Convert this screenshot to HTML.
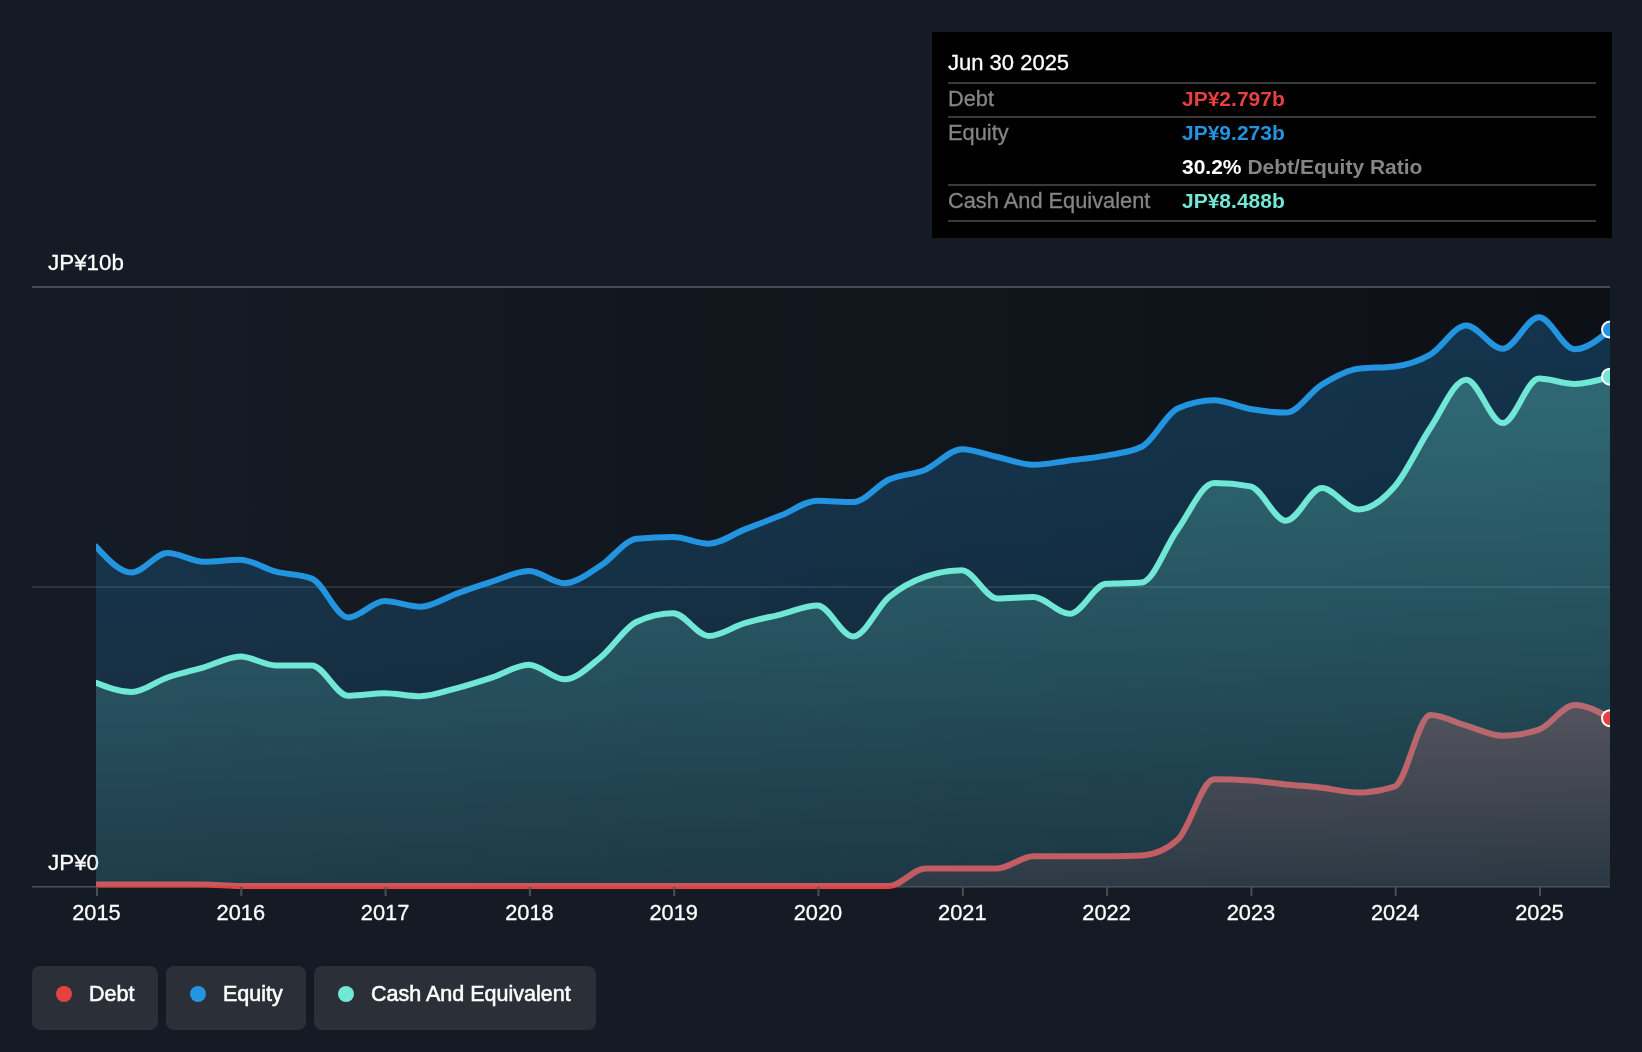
<!DOCTYPE html>
<html><head><meta charset="utf-8"><style>
*{margin:0;padding:0;box-sizing:border-box}
html,body{width:1642px;height:1052px;overflow:hidden;background:#151b24;font-family:"Liberation Sans", sans-serif}
svg{position:absolute;left:0;top:0}
.tt{will-change:transform;position:absolute;left:932px;top:32px;width:680px;height:206px;background:#000}
.tt .t{position:absolute;left:16px;color:#fff;font-size:22px;-webkit-text-stroke:0.3px #fff;white-space:nowrap}
.tt .sep{position:absolute;left:16px;width:648px;height:2px;background:#3a3a3a}
.tt .l{position:absolute;left:16px;color:#858585;font-size:21.8px;-webkit-text-stroke:0.3px #858585;white-space:nowrap}
.tt .v{position:absolute;left:250px;font-size:21px;font-weight:700;white-space:nowrap}
.lg{will-change:transform;position:absolute;top:966px;height:64px;background:#2b2f37;border-radius:8px}
.lg .d{position:absolute;top:20px;width:16px;height:16px;border-radius:50%}
.lg .n{position:absolute;top:15px;color:#fff;font-size:21.5px;font-weight:400;-webkit-text-stroke:0.55px #fff;white-space:nowrap;line-height:26px}
</style></head><body>
<svg width="1642" height="1052" viewBox="0 0 1642 1052">
<defs>
<linearGradient id="hov" x1="96" y1="0" x2="1610" y2="0" gradientUnits="userSpaceOnUse">
<stop offset="0" stop-color="#000" stop-opacity="0"/><stop offset="1" stop-color="#000" stop-opacity="0.38"/></linearGradient>
<linearGradient id="geq" x1="0" y1="288" x2="0" y2="886" gradientUnits="userSpaceOnUse">
<stop offset="0" stop-color="#2394df" stop-opacity="0.28"/><stop offset="1" stop-color="#2394df" stop-opacity="0.12"/></linearGradient>
<linearGradient id="gca" x1="0" y1="288" x2="0" y2="886" gradientUnits="userSpaceOnUse">
<stop offset="0" stop-color="#71e7d6" stop-opacity="0.34"/><stop offset="1" stop-color="#71e7d6" stop-opacity="0.10"/></linearGradient>
<linearGradient id="gde" x1="0" y1="0" x2="0" y2="1">
<stop offset="0" stop-color="#e64141" stop-opacity="0.33"/><stop offset="1" stop-color="#e64141" stop-opacity="0.10"/></linearGradient>
<clipPath id="clip"><rect x="96" y="200" width="1514" height="700"/></clipPath>
</defs>
<rect x="96" y="288" width="1514" height="598" fill="url(#hov)"/>
<rect x="32" y="286" width="1578" height="2" fill="#464a51"/>
<rect x="32" y="586" width="1578" height="2" fill="#ffffff" fill-opacity="0.11"/>
<g font-family='"Liberation Sans", sans-serif' font-size="22.4" fill="#fff" stroke="#fff" stroke-width="0.3" style="will-change:transform">
<text x="48" y="270">JP¥10b</text>
<text x="48" y="870">JP¥0</text>
</g>
<rect x="32" y="886" width="1578" height="1.6" fill="#4a4e55"/>
<g clip-path="url(#clip)">
<path d="M96.00,884.60C107.86,884.60,119.72,884.60,131.58,884.60C143.58,884.60,155.57,884.60,167.56,884.60C179.68,884.60,191.80,884.60,203.92,884.60C216.05,884.60,228.17,886.00,240.30,886.00C252.16,886.00,264.02,886.00,275.88,886.00C287.88,886.00,299.87,886.00,311.86,886.00C323.98,886.00,336.10,886.00,348.22,886.00C360.35,886.00,372.47,886.00,384.60,886.00C396.46,886.00,408.32,886.00,420.18,886.00C432.18,886.00,444.17,886.00,456.16,886.00C468.28,886.00,480.40,886.00,492.52,886.00C504.65,886.00,516.77,886.00,528.90,886.00C540.76,886.00,552.62,886.00,564.48,886.00C576.48,886.00,588.47,886.00,600.46,886.00C612.58,886.00,624.70,886.00,636.82,886.00C648.95,886.00,661.07,886.00,673.20,886.00C685.06,886.00,696.92,886.00,708.78,886.00C720.78,886.00,732.77,886.00,744.76,886.00C756.88,886.00,769.00,886.00,781.12,886.00C793.25,886.00,805.37,886.00,817.50,886.00C829.36,886.00,841.22,886.00,853.08,886.00C865.08,886.00,877.07,886.00,889.06,886.00C901.18,886.00,913.30,868.40,925.42,868.40C937.55,868.40,949.67,868.40,961.80,868.40C973.66,868.40,985.52,868.40,997.38,868.40C1009.38,868.40,1021.37,856.20,1033.36,856.20C1045.48,856.20,1057.60,856.20,1069.72,856.20C1081.85,856.20,1093.97,856.20,1106.10,856.20C1117.96,856.20,1129.82,855.97,1141.68,855.50C1153.68,855.03,1165.67,850.27,1177.66,839.80C1189.78,829.22,1201.90,779.20,1214.02,779.20C1226.15,779.20,1238.27,779.70,1250.40,780.60C1262.26,781.48,1274.12,783.32,1285.98,784.50C1297.98,785.69,1309.97,786.36,1321.96,787.70C1334.08,789.05,1346.20,792.60,1358.32,792.60C1370.45,792.60,1382.57,790.57,1394.70,786.50C1406.56,782.52,1418.42,715.00,1430.28,715.00C1442.28,715.00,1454.27,722.17,1466.26,725.60C1478.38,729.07,1490.50,735.70,1502.62,735.70C1514.75,735.70,1526.87,733.67,1539.00,729.60C1550.86,725.62,1562.72,705.00,1574.58,705.00C1586.58,705.00,1598.57,711.60,1610.56,718.20" fill="none" stroke="#e64141" stroke-width="6" stroke-linejoin="round" stroke-linecap="round"/>
<path d="M96.00,884.60C107.86,884.60,119.72,884.60,131.58,884.60C143.58,884.60,155.57,884.60,167.56,884.60C179.68,884.60,191.80,884.60,203.92,884.60C216.05,884.60,228.17,886.00,240.30,886.00C252.16,886.00,264.02,886.00,275.88,886.00C287.88,886.00,299.87,886.00,311.86,886.00C323.98,886.00,336.10,886.00,348.22,886.00C360.35,886.00,372.47,886.00,384.60,886.00C396.46,886.00,408.32,886.00,420.18,886.00C432.18,886.00,444.17,886.00,456.16,886.00C468.28,886.00,480.40,886.00,492.52,886.00C504.65,886.00,516.77,886.00,528.90,886.00C540.76,886.00,552.62,886.00,564.48,886.00C576.48,886.00,588.47,886.00,600.46,886.00C612.58,886.00,624.70,886.00,636.82,886.00C648.95,886.00,661.07,886.00,673.20,886.00C685.06,886.00,696.92,886.00,708.78,886.00C720.78,886.00,732.77,886.00,744.76,886.00C756.88,886.00,769.00,886.00,781.12,886.00C793.25,886.00,805.37,886.00,817.50,886.00C829.36,886.00,841.22,886.00,853.08,886.00C865.08,886.00,877.07,886.00,889.06,886.00C901.18,886.00,913.30,868.40,925.42,868.40C937.55,868.40,949.67,868.40,961.80,868.40C973.66,868.40,985.52,868.40,997.38,868.40C1009.38,868.40,1021.37,856.20,1033.36,856.20C1045.48,856.20,1057.60,856.20,1069.72,856.20C1081.85,856.20,1093.97,856.20,1106.10,856.20C1117.96,856.20,1129.82,855.97,1141.68,855.50C1153.68,855.03,1165.67,850.27,1177.66,839.80C1189.78,829.22,1201.90,779.20,1214.02,779.20C1226.15,779.20,1238.27,779.70,1250.40,780.60C1262.26,781.48,1274.12,783.32,1285.98,784.50C1297.98,785.69,1309.97,786.36,1321.96,787.70C1334.08,789.05,1346.20,792.60,1358.32,792.60C1370.45,792.60,1382.57,790.57,1394.70,786.50C1406.56,782.52,1418.42,715.00,1430.28,715.00C1442.28,715.00,1454.27,722.17,1466.26,725.60C1478.38,729.07,1490.50,735.70,1502.62,735.70C1514.75,735.70,1526.87,733.67,1539.00,729.60C1550.86,725.62,1562.72,705.00,1574.58,705.00C1586.58,705.00,1598.57,711.60,1610.56,718.20L1610.56,886.0L96.00,886.0Z" fill="url(#gde)"/>
<path d="M96.00,546.60C107.86,559.55,119.72,572.50,131.58,572.50C143.58,572.50,155.57,553.00,167.56,553.00C179.68,553.00,191.80,561.70,203.92,561.70C216.05,561.70,228.17,559.70,240.30,559.70C252.16,559.70,264.02,568.56,275.88,571.70C287.88,574.88,299.87,574.00,311.86,578.60C323.98,583.25,336.10,617.50,348.22,617.50C360.35,617.50,372.47,601.10,384.60,601.10C396.46,601.10,408.32,606.80,420.18,606.80C432.18,606.80,444.17,598.01,456.16,593.80C468.28,589.54,480.40,585.20,492.52,581.40C504.65,577.60,516.77,571.00,528.90,571.00C540.76,571.00,552.62,583.20,564.48,583.20C576.48,583.20,588.47,573.16,600.46,565.80C612.58,558.36,624.70,539.83,636.82,538.70C648.95,537.57,661.07,537.00,673.20,537.00C685.06,537.00,696.92,543.70,708.78,543.70C720.78,543.70,732.77,534.11,744.76,529.40C756.88,524.64,769.00,520.08,781.12,515.30C793.25,510.52,805.37,500.70,817.50,500.70C829.36,500.70,841.22,502.10,853.08,502.10C865.08,502.10,877.07,484.89,889.06,479.50C901.18,474.05,913.30,474.75,925.42,469.70C937.55,464.65,949.67,449.20,961.80,449.20C973.66,449.20,985.52,454.41,997.38,457.00C1009.38,459.61,1021.37,464.80,1033.36,464.80C1045.48,464.80,1057.60,461.93,1069.72,460.40C1081.85,458.87,1093.97,457.91,1106.10,455.60C1117.96,453.34,1129.82,452.67,1141.68,446.80C1153.68,440.87,1165.67,413.97,1177.66,408.50C1189.78,402.97,1201.90,400.20,1214.02,400.20C1226.15,400.20,1238.27,406.93,1250.40,409.00C1262.26,411.03,1274.12,412.60,1285.98,412.60C1297.98,412.60,1309.97,391.80,1321.96,384.50C1334.08,377.12,1346.20,370.17,1358.32,368.70C1370.45,367.23,1382.57,367.97,1394.70,366.50C1406.56,365.07,1418.42,361.38,1430.28,354.60C1442.28,347.74,1454.27,325.40,1466.26,325.40C1478.38,325.40,1490.50,348.80,1502.62,348.80C1514.75,348.80,1526.87,317.30,1539.00,317.30C1550.86,317.30,1562.72,349.20,1574.58,349.20C1586.58,349.20,1598.57,339.40,1610.56,329.60L1610.56,886.0L96.00,886.0Z" fill="url(#geq)"/>
<path d="M96.00,682.90C107.86,687.50,119.72,692.10,131.58,692.10C143.58,692.10,155.57,681.62,167.56,677.50C179.68,673.34,191.80,670.80,203.92,667.30C216.05,663.80,228.17,656.50,240.30,656.50C252.16,656.50,264.02,665.33,275.88,665.40C287.88,665.47,299.87,665.43,311.86,665.50C323.98,665.57,336.10,695.80,348.22,695.80C360.35,695.80,372.47,693.30,384.60,693.30C396.46,693.30,408.32,696.30,420.18,696.30C432.18,696.30,444.17,691.44,456.16,688.30C468.28,685.12,480.40,681.23,492.52,677.30C504.65,673.37,516.77,664.70,528.90,664.70C540.76,664.70,552.62,679.30,564.48,679.30C576.48,679.30,588.47,667.02,600.46,657.50C612.58,647.87,624.70,627.36,636.82,621.70C648.95,616.03,661.07,613.20,673.20,613.20C685.06,613.20,696.92,636.00,708.78,636.00C720.78,636.00,732.77,626.80,744.76,623.20C756.88,619.56,769.00,617.25,781.12,614.30C793.25,611.35,805.37,605.50,817.50,605.50C829.36,605.50,841.22,636.50,853.08,636.50C865.08,636.50,877.07,606.96,889.06,597.00C901.18,586.93,913.30,580.80,925.42,576.60C937.55,572.40,949.67,570.30,961.80,570.30C973.66,570.30,985.52,598.50,997.38,598.50C1009.38,598.50,1021.37,597.00,1033.36,597.00C1045.48,597.00,1057.60,613.80,1069.72,613.80C1081.85,613.80,1093.97,584.69,1106.10,583.80C1117.96,582.93,1129.82,583.37,1141.68,582.50C1153.68,581.62,1165.67,545.91,1177.66,529.40C1189.78,512.71,1201.90,483.00,1214.02,483.00C1226.15,483.00,1238.27,484.13,1250.40,486.40C1262.26,488.62,1274.12,520.70,1285.98,520.70C1297.98,520.70,1309.97,488.10,1321.96,488.10C1334.08,488.10,1346.20,509.50,1358.32,509.50C1370.45,509.50,1382.57,500.37,1394.70,486.50C1406.56,472.93,1418.42,445.72,1430.28,428.00C1442.28,410.08,1454.27,379.70,1466.26,379.70C1478.38,379.70,1490.50,423.10,1502.62,423.10C1514.75,423.10,1526.87,378.60,1539.00,378.60C1550.86,378.60,1562.72,384.00,1574.58,384.00C1586.58,384.00,1598.57,380.35,1610.56,376.70L1610.56,886.0L96.00,886.0Z" fill="url(#gca)"/>
<path d="M96.00,546.60C107.86,559.55,119.72,572.50,131.58,572.50C143.58,572.50,155.57,553.00,167.56,553.00C179.68,553.00,191.80,561.70,203.92,561.70C216.05,561.70,228.17,559.70,240.30,559.70C252.16,559.70,264.02,568.56,275.88,571.70C287.88,574.88,299.87,574.00,311.86,578.60C323.98,583.25,336.10,617.50,348.22,617.50C360.35,617.50,372.47,601.10,384.60,601.10C396.46,601.10,408.32,606.80,420.18,606.80C432.18,606.80,444.17,598.01,456.16,593.80C468.28,589.54,480.40,585.20,492.52,581.40C504.65,577.60,516.77,571.00,528.90,571.00C540.76,571.00,552.62,583.20,564.48,583.20C576.48,583.20,588.47,573.16,600.46,565.80C612.58,558.36,624.70,539.83,636.82,538.70C648.95,537.57,661.07,537.00,673.20,537.00C685.06,537.00,696.92,543.70,708.78,543.70C720.78,543.70,732.77,534.11,744.76,529.40C756.88,524.64,769.00,520.08,781.12,515.30C793.25,510.52,805.37,500.70,817.50,500.70C829.36,500.70,841.22,502.10,853.08,502.10C865.08,502.10,877.07,484.89,889.06,479.50C901.18,474.05,913.30,474.75,925.42,469.70C937.55,464.65,949.67,449.20,961.80,449.20C973.66,449.20,985.52,454.41,997.38,457.00C1009.38,459.61,1021.37,464.80,1033.36,464.80C1045.48,464.80,1057.60,461.93,1069.72,460.40C1081.85,458.87,1093.97,457.91,1106.10,455.60C1117.96,453.34,1129.82,452.67,1141.68,446.80C1153.68,440.87,1165.67,413.97,1177.66,408.50C1189.78,402.97,1201.90,400.20,1214.02,400.20C1226.15,400.20,1238.27,406.93,1250.40,409.00C1262.26,411.03,1274.12,412.60,1285.98,412.60C1297.98,412.60,1309.97,391.80,1321.96,384.50C1334.08,377.12,1346.20,370.17,1358.32,368.70C1370.45,367.23,1382.57,367.97,1394.70,366.50C1406.56,365.07,1418.42,361.38,1430.28,354.60C1442.28,347.74,1454.27,325.40,1466.26,325.40C1478.38,325.40,1490.50,348.80,1502.62,348.80C1514.75,348.80,1526.87,317.30,1539.00,317.30C1550.86,317.30,1562.72,349.20,1574.58,349.20C1586.58,349.20,1598.57,339.40,1610.56,329.60" fill="none" stroke="#2394df" stroke-width="6" stroke-linejoin="round" stroke-linecap="round"/>
<path d="M96.00,682.90C107.86,687.50,119.72,692.10,131.58,692.10C143.58,692.10,155.57,681.62,167.56,677.50C179.68,673.34,191.80,670.80,203.92,667.30C216.05,663.80,228.17,656.50,240.30,656.50C252.16,656.50,264.02,665.33,275.88,665.40C287.88,665.47,299.87,665.43,311.86,665.50C323.98,665.57,336.10,695.80,348.22,695.80C360.35,695.80,372.47,693.30,384.60,693.30C396.46,693.30,408.32,696.30,420.18,696.30C432.18,696.30,444.17,691.44,456.16,688.30C468.28,685.12,480.40,681.23,492.52,677.30C504.65,673.37,516.77,664.70,528.90,664.70C540.76,664.70,552.62,679.30,564.48,679.30C576.48,679.30,588.47,667.02,600.46,657.50C612.58,647.87,624.70,627.36,636.82,621.70C648.95,616.03,661.07,613.20,673.20,613.20C685.06,613.20,696.92,636.00,708.78,636.00C720.78,636.00,732.77,626.80,744.76,623.20C756.88,619.56,769.00,617.25,781.12,614.30C793.25,611.35,805.37,605.50,817.50,605.50C829.36,605.50,841.22,636.50,853.08,636.50C865.08,636.50,877.07,606.96,889.06,597.00C901.18,586.93,913.30,580.80,925.42,576.60C937.55,572.40,949.67,570.30,961.80,570.30C973.66,570.30,985.52,598.50,997.38,598.50C1009.38,598.50,1021.37,597.00,1033.36,597.00C1045.48,597.00,1057.60,613.80,1069.72,613.80C1081.85,613.80,1093.97,584.69,1106.10,583.80C1117.96,582.93,1129.82,583.37,1141.68,582.50C1153.68,581.62,1165.67,545.91,1177.66,529.40C1189.78,512.71,1201.90,483.00,1214.02,483.00C1226.15,483.00,1238.27,484.13,1250.40,486.40C1262.26,488.62,1274.12,520.70,1285.98,520.70C1297.98,520.70,1309.97,488.10,1321.96,488.10C1334.08,488.10,1346.20,509.50,1358.32,509.50C1370.45,509.50,1382.57,500.37,1394.70,486.50C1406.56,472.93,1418.42,445.72,1430.28,428.00C1442.28,410.08,1454.27,379.70,1466.26,379.70C1478.38,379.70,1490.50,423.10,1502.62,423.10C1514.75,423.10,1526.87,378.60,1539.00,378.60C1550.86,378.60,1562.72,384.00,1574.58,384.00C1586.58,384.00,1598.57,380.35,1610.56,376.70" fill="none" stroke="#71e7d6" stroke-width="6" stroke-linejoin="round" stroke-linecap="round"/>
<circle cx="1610" cy="329.6" r="8" fill="#2394df" stroke="#fff" stroke-width="2"/>
<circle cx="1610" cy="376.7" r="8" fill="#71e7d6" stroke="#fff" stroke-width="2"/>
<circle cx="1610" cy="718.2" r="8" fill="#e64141" stroke="#fff" stroke-width="2"/>
</g>
<rect x="96.0" y="887" width="2" height="9" fill="#4a4e55"/><rect x="240.3" y="887" width="2" height="9" fill="#4a4e55"/><rect x="384.6" y="887" width="2" height="9" fill="#4a4e55"/><rect x="528.9" y="887" width="2" height="9" fill="#4a4e55"/><rect x="673.2" y="887" width="2" height="9" fill="#4a4e55"/><rect x="817.5" y="887" width="2" height="9" fill="#4a4e55"/><rect x="961.8" y="887" width="2" height="9" fill="#4a4e55"/><rect x="1106.1" y="887" width="2" height="9" fill="#4a4e55"/><rect x="1250.4" y="887" width="2" height="9" fill="#4a4e55"/><rect x="1394.7" y="887" width="2" height="9" fill="#4a4e55"/><rect x="1539.0" y="887" width="2" height="9" fill="#4a4e55"/>
<g font-family='"Liberation Sans", sans-serif' font-size="21.8" fill="#fff" stroke="#fff" stroke-width="0.3" style="will-change:transform"><text x="96.5" y="920" text-anchor="middle">2015</text><text x="240.8" y="920" text-anchor="middle">2016</text><text x="385.1" y="920" text-anchor="middle">2017</text><text x="529.4" y="920" text-anchor="middle">2018</text><text x="673.7" y="920" text-anchor="middle">2019</text><text x="818.0" y="920" text-anchor="middle">2020</text><text x="962.3" y="920" text-anchor="middle">2021</text><text x="1106.6" y="920" text-anchor="middle">2022</text><text x="1250.9" y="920" text-anchor="middle">2023</text><text x="1395.2" y="920" text-anchor="middle">2024</text><text x="1539.5" y="920" text-anchor="middle">2025</text></g>
</svg>
<div class="tt">
<div class="t" style="top:17.5px">Jun 30 2025</div>
<div class="sep" style="top:50px"></div>
<div class="l" style="top:53.5px">Debt</div><div class="v" style="top:54.5px;color:#e64141">JP¥2.797b</div>
<div class="sep" style="top:84px"></div>
<div class="l" style="top:87.5px">Equity</div><div class="v" style="top:88.5px;color:#2394df">JP¥9.273b</div>
<div class="v" style="top:122.5px;color:#fff">30.2% <span style="color:#858585">Debt/Equity Ratio</span></div>
<div class="sep" style="top:152px"></div>
<div class="l" style="top:155.5px">Cash And Equivalent</div><div class="v" style="top:156.5px;color:#71e7d6">JP¥8.488b</div>
<div class="sep" style="top:188px"></div>
</div>
<div class="lg" style="left:32px;width:126px"><div class="d" style="left:24px;background:#e64141"></div><div class="n" style="left:57px">Debt</div></div>
<div class="lg" style="left:166px;width:140px"><div class="d" style="left:24px;background:#2394df"></div><div class="n" style="left:57px">Equity</div></div>
<div class="lg" style="left:314px;width:282px"><div class="d" style="left:24px;background:#71e7d6"></div><div class="n" style="left:57px">Cash And Equivalent</div></div>
</body></html>
